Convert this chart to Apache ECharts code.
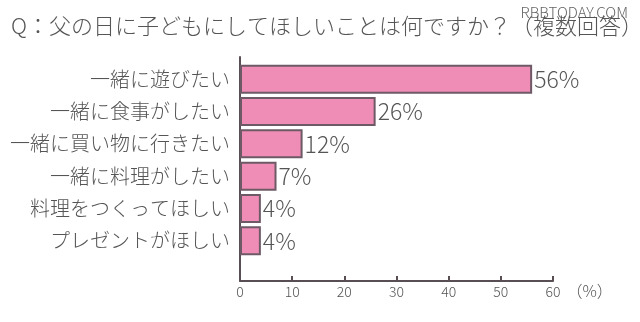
<!DOCTYPE html>
<html>
<head>
<meta charset="utf-8">
<script src="https://cdn.jsdelivr.net/npm/echarts@6/dist/echarts.min.js"></script>
<style>
html,body{margin:0;padding:0;background:#fff;}
#c{width:640px;height:322px;}
</style>
</head>
<body>
<div id="c"></div>
<script>
const titleText = 'Q：父の日に子どもにしてほしいことは何ですか？（複数回答）';
const watermark = 'RBBTODAY.COM';
const categories = ['一緒に遊びたい','一緒に食事がしたい','一緒に買い物に行きたい','一緒に料理がしたい','料理をつくってほしい','プレゼントがほしい'];
const values = [56, 26, 12, 7, 4, 4];
const axisMin = 0, axisMax = 60, axisStep = 10;
const unitLabel = '（%）';

const FONT = '"Noto Sans CJK JP","Noto Sans",sans-serif';
const TXT = '#555555';
const W = 300;
const chart = echarts.init(document.getElementById('c'), null, {renderer:'canvas'});
chart.setOption({
  animation:false,
  backgroundColor:'#ffffff',
  textStyle:{fontFamily:FONT},
  title:{
    text:titleText, left:6, top:10,
    textStyle:{fontFamily:FONT, fontSize:22, fontWeight:W, color:TXT}
  },
  graphic:[{
    type:'text', right:12, top:5,
    style:{text:watermark, fontFamily:FONT, fontSize:15, fontWeight:W, fill:'#666'}
  }],
  grid:[
    {left:240, width:313, top:63, height:194},
    {left:240, width:313, top:57, height:224}
  ],
  xAxis:[
    {gridIndex:0, type:'value', min:axisMin, max:axisMax, show:false},
    {gridIndex:1, type:'value', min:axisMin, max:axisMax, interval:axisStep,
     axisLine:{show:true, onZero:false, lineStyle:{color:'#5a4e55', width:2}},
     axisTick:{show:true, inside:true, length:5, lineStyle:{color:'#5a4e55', width:2}},
     axisLabel:{fontSize:14, color:TXT, margin:4, fontFamily:FONT, fontWeight:W},
     splitLine:{show:false},
     name:unitLabel, nameLocation:'end', nameGap:10,
     nameTextStyle:{fontSize:16, color:TXT, fontWeight:W, verticalAlign:'top', padding:[2,0,0,0]}
    }
  ],
  yAxis:[
    {gridIndex:0, type:'category', data:categories, inverse:true,
     axisLine:{show:false}, axisTick:{show:false},
     axisLabel:{fontSize:20, color:TXT, margin:10, fontFamily:FONT, fontWeight:W}
    },
    {gridIndex:1, type:'value', min:0, max:1,
     axisLine:{show:true, onZero:false, lineStyle:{color:'#5a4e55', width:2}},
     axisTick:{show:false}, axisLabel:{show:false}, splitLine:{show:false}
    }
  ],
  series:[{
    type:'bar', xAxisIndex:0, yAxisIndex:0, data:values, barWidth:29,
    itemStyle:{color:'#ef8db6', borderColor:'#6e5a66', borderWidth:2},
    label:{show:true, position:'right', distance:2, formatter:'{c}%', fontSize:23, color:TXT, fontFamily:FONT, fontWeight:W}
  }]
});
</script>
</body>
</html>
